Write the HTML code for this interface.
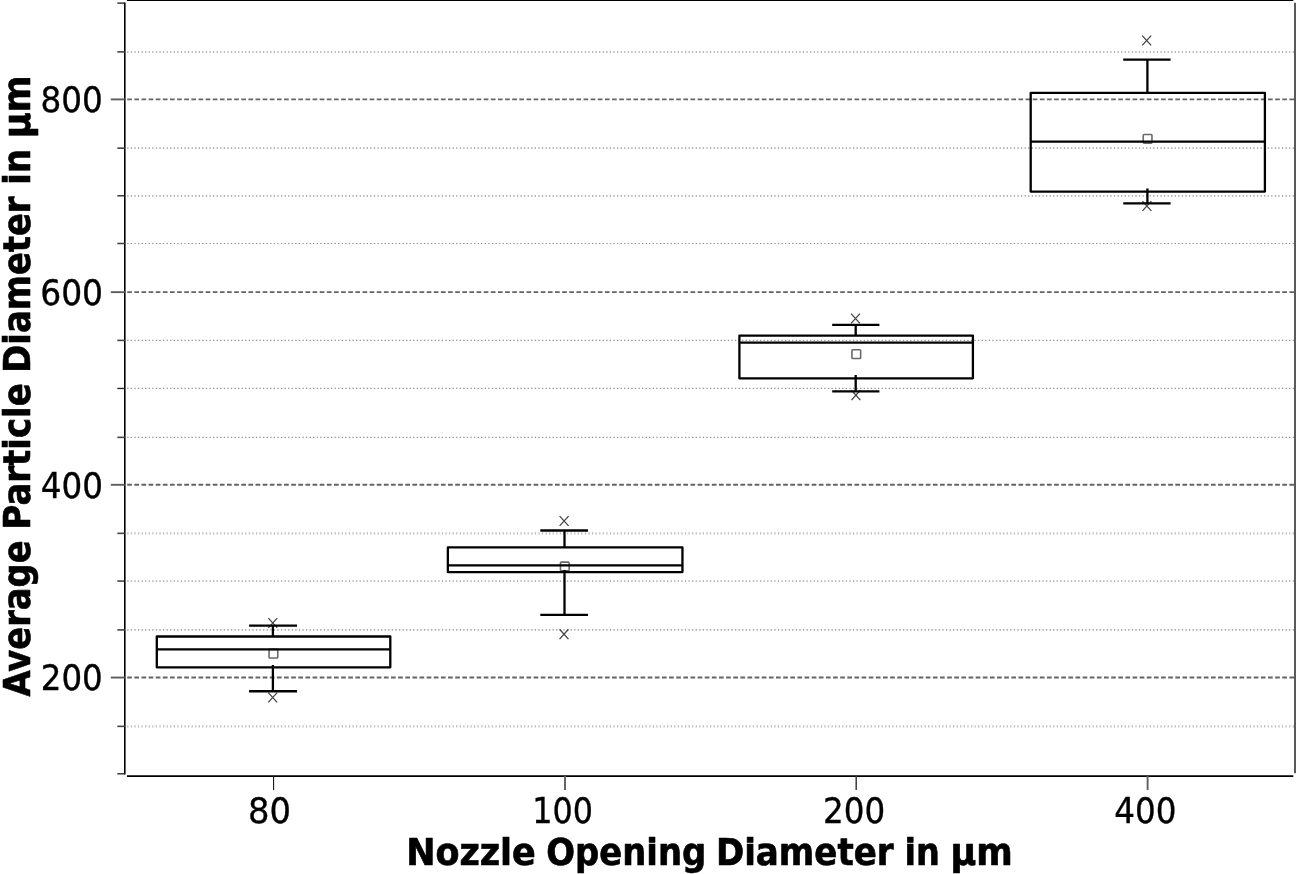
<!DOCTYPE html>
<html lang="en"><head><meta charset="utf-8">
<title>Average Particle Diameter vs Nozzle Opening Diameter</title>
<style>
html,body{margin:0;padding:0;background:#fff;}
body{width:1296px;height:874px;overflow:hidden;}
svg{display:block;}
.tk{font-family:"DejaVu Sans Condensed","DejaVu Sans","Liberation Sans",sans-serif;font-stretch:condensed;font-size:36.2px;fill:#000;stroke:#000;stroke-width:0.35px;}
.ti{font-family:"DejaVu Sans Condensed","DejaVu Sans","Liberation Sans",sans-serif;font-stretch:condensed;font-weight:bold;font-size:37.3px;fill:#000;stroke:#000;stroke-width:0.6px;stroke-linejoin:round;}
</style></head><body>
<svg width="1296" height="874" viewBox="0 0 1296 874">
<rect x="0" y="0" width="1296" height="874" fill="#ffffff"/>
<g fill="none" stroke-linecap="butt">
<line x1="127.20" y1="726.35" x2="1294.30" y2="726.35" stroke="#bebebe" stroke-width="2.2" stroke-dasharray="1.3 2.275"/>
<line x1="127.20" y1="677.55" x2="1294.30" y2="677.55" stroke="#646464" stroke-width="1.9" stroke-dasharray="4.7 2.43"/>
<line x1="127.20" y1="629.90" x2="1294.30" y2="629.90" stroke="#a6a6a6" stroke-width="1.6" stroke-dasharray="1.3 2.275"/>
<line x1="127.20" y1="581.05" x2="1294.30" y2="581.05" stroke="#b0b0b0" stroke-width="1.8" stroke-dasharray="1.3 2.275"/>
<line x1="127.20" y1="533.35" x2="1294.30" y2="533.35" stroke="#bebebe" stroke-width="2.2" stroke-dasharray="1.3 2.275"/>
<line x1="127.20" y1="484.80" x2="1294.30" y2="484.80" stroke="#646464" stroke-width="1.9" stroke-dasharray="4.7 2.43"/>
<line x1="127.20" y1="437.35" x2="1294.30" y2="437.35" stroke="#919191" stroke-width="1.3" stroke-dasharray="1.3 2.275"/>
<line x1="127.20" y1="388.45" x2="1294.30" y2="388.45" stroke="#919191" stroke-width="1.3" stroke-dasharray="1.3 2.275"/>
<line x1="127.20" y1="340.40" x2="1294.30" y2="340.40" stroke="#919191" stroke-width="1.3" stroke-dasharray="1.3 2.275"/>
<line x1="127.20" y1="292.15" x2="1294.30" y2="292.15" stroke="#646464" stroke-width="1.9" stroke-dasharray="4.7 2.43"/>
<line x1="127.20" y1="243.50" x2="1294.30" y2="243.50" stroke="#888888" stroke-width="1.2" stroke-dasharray="1.3 2.275"/>
<line x1="127.20" y1="195.80" x2="1294.30" y2="195.80" stroke="#ababab" stroke-width="1.7" stroke-dasharray="1.3 2.275"/>
<line x1="127.20" y1="148.15" x2="1294.30" y2="148.15" stroke="#ababab" stroke-width="1.7" stroke-dasharray="1.3 2.275"/>
<line x1="127.20" y1="99.40" x2="1294.30" y2="99.40" stroke="#646464" stroke-width="1.9" stroke-dasharray="4.7 2.43"/>
<line x1="127.20" y1="51.90" x2="1294.30" y2="51.90" stroke="#b8b8b8" stroke-width="2.0" stroke-dasharray="1.3 2.275"/>
</g>
<g stroke="#000" fill="none" stroke-linecap="butt">
<line x1="124.80" y1="2.40" x2="124.80" y2="774.60" stroke-width="1.6"/>
<line x1="126.90" y1="776.05" x2="1293.30" y2="776.05" stroke-width="1.7"/>
<line x1="126.90" y1="0.35" x2="1293.30" y2="0.35" stroke-width="1.3"/>
<line x1="1295.00" y1="2.80" x2="1295.00" y2="773.30" stroke-width="1.8" stroke="#484848"/>
</g>
<g stroke="#5e5e5e" stroke-width="1.9" fill="none">
<line x1="117.30" y1="773.80" x2="124.80" y2="773.80" stroke-width="1.35" stroke="#242424"/>
<line x1="117.30" y1="726.35" x2="124.80" y2="726.35" stroke-width="1.6" stroke="#444444"/>
<line x1="110.80" y1="677.55" x2="124.80" y2="677.55" stroke-width="1.9" stroke="#5e5e5e"/>
<line x1="117.30" y1="629.90" x2="124.80" y2="629.90" stroke-width="1.6" stroke="#444444"/>
<line x1="117.30" y1="581.05" x2="124.80" y2="581.05" stroke-width="1.35" stroke="#242424"/>
<line x1="117.30" y1="533.35" x2="124.80" y2="533.35" stroke-width="1.6" stroke="#444444"/>
<line x1="110.80" y1="484.80" x2="124.80" y2="484.80" stroke-width="1.9" stroke="#5e5e5e"/>
<line x1="117.30" y1="437.35" x2="124.80" y2="437.35" stroke-width="1.6" stroke="#444444"/>
<line x1="117.30" y1="388.45" x2="124.80" y2="388.45" stroke-width="1.35" stroke="#242424"/>
<line x1="117.30" y1="340.40" x2="124.80" y2="340.40" stroke-width="1.6" stroke="#444444"/>
<line x1="110.80" y1="292.15" x2="124.80" y2="292.15" stroke-width="1.9" stroke="#5e5e5e"/>
<line x1="117.30" y1="243.50" x2="124.80" y2="243.50" stroke-width="1.6" stroke="#444444"/>
<line x1="117.30" y1="195.80" x2="124.80" y2="195.80" stroke-width="1.35" stroke="#242424"/>
<line x1="117.30" y1="148.15" x2="124.80" y2="148.15" stroke-width="1.6" stroke="#444444"/>
<line x1="110.80" y1="99.40" x2="124.80" y2="99.40" stroke-width="1.9" stroke="#5e5e5e"/>
<line x1="117.30" y1="51.90" x2="124.80" y2="51.90" stroke-width="1.6" stroke="#444444"/>
<line x1="117.30" y1="3.10" x2="124.80" y2="3.10" stroke-width="1.35" stroke="#242424"/>
<line x1="273.56" y1="776.05" x2="273.56" y2="790.10" stroke-width="1.15" stroke="#1c1c1c"/>
<line x1="565.00" y1="776.05" x2="565.00" y2="790.10" stroke-width="1.9" stroke="#5e5e5e"/>
<line x1="856.20" y1="776.05" x2="856.20" y2="790.10" stroke-width="1.5" stroke="#3c3c3c"/>
<line x1="1147.60" y1="776.05" x2="1147.60" y2="790.10" stroke-width="1.9" stroke="#5e5e5e"/>
</g>
<g stroke="#444" stroke-width="1.3" fill="none" stroke-linejoin="round">
<rect x="269.05" y="649.35" width="8.70" height="8.70" rx="0.8" stroke="#6a6a6a" stroke-width="1.6"/>
<path d="M268.35 618.10L277.25 627.90M268.35 627.90L277.25 618.10"/>
<path d="M268.25 692.60L277.15 702.40M268.25 702.40L277.15 692.60"/>
<rect x="560.45" y="562.15" width="8.70" height="8.70" rx="0.8" stroke="#6a6a6a" stroke-width="1.6"/>
<path d="M559.65 516.10L568.55 525.90M559.65 525.90L568.55 516.10"/>
<path d="M559.55 629.30L568.45 639.10M559.55 639.10L568.45 629.30"/>
<rect x="851.95" y="349.75" width="8.70" height="8.70" rx="0.8" stroke="#6a6a6a" stroke-width="1.6"/>
<path d="M851.05 313.60L859.95 323.40M851.05 323.40L859.95 313.60"/>
<path d="M851.45 390.30L860.35 400.10M851.45 400.10L860.35 390.30"/>
<rect x="1143.25" y="134.45" width="8.70" height="8.70" rx="0.8" stroke="#6a6a6a" stroke-width="1.6"/>
<path d="M1142.25 35.60L1151.15 45.40M1142.25 45.40L1151.15 35.60"/>
<path d="M1142.45 201.10L1151.35 210.90M1142.45 210.90L1151.35 201.10"/>
</g>
<g stroke="#000" fill="none" stroke-linejoin="round" stroke-linecap="butt">
<rect x="156.80" y="636.50" width="233.50" height="30.80" stroke-width="2.3"/>
<line x1="156.80" y1="649.30" x2="390.30" y2="649.30" stroke-width="2.2"/>
<path d="M249.10 625.70H297.00M272.90 625.70V636.50M272.90 665.00V691.25M249.10 691.25H297.00" stroke-width="2.3"/>
<rect x="447.85" y="547.40" width="234.60" height="24.70" stroke-width="2.3"/>
<line x1="447.85" y1="565.30" x2="682.45" y2="565.30" stroke-width="2.2"/>
<path d="M540.30 530.50H588.00M564.50 530.50V547.40M564.50 570.00V614.90M540.30 614.90H588.00" stroke-width="2.3"/>
<rect x="739.40" y="335.70" width="233.50" height="42.60" stroke-width="2.3"/>
<line x1="739.40" y1="342.65" x2="972.90" y2="342.65" stroke-width="2.2"/>
<path d="M832.20 324.85H879.40M855.70 324.85V335.70M855.70 375.10V391.40M832.20 391.40H879.40" stroke-width="2.3"/>
<rect x="1030.70" y="92.90" width="234.20" height="98.65" stroke-width="2.3"/>
<line x1="1030.70" y1="141.60" x2="1264.90" y2="141.60" stroke-width="2.2"/>
<path d="M1123.20 59.70H1170.60M1147.40 59.70V92.90M1147.40 188.40V203.30M1123.20 203.30H1170.60" stroke-width="2.3"/>
</g>
<text class="tk" x="40.42" y="112.25" textLength="62.24" lengthAdjust="spacingAndGlyphs">800</text>
<text class="tk" x="40.18" y="304.85" textLength="62.94" lengthAdjust="spacingAndGlyphs">600</text>
<text class="tk" x="40.74" y="497.50" textLength="62.23" lengthAdjust="spacingAndGlyphs">400</text>
<text class="tk" x="40.78" y="690.10" textLength="61.96" lengthAdjust="spacingAndGlyphs">200</text>
<text class="tk" x="247.97" y="822.75" textLength="42.90" lengthAdjust="spacingAndGlyphs">80</text>
<text class="tk" x="532.20" y="822.75" textLength="60.69" lengthAdjust="spacingAndGlyphs">100</text>
<text class="tk" x="822.98" y="822.75" textLength="62.17" lengthAdjust="spacingAndGlyphs">200</text>
<text class="tk" x="1114.24" y="822.75" textLength="62.23" lengthAdjust="spacingAndGlyphs">400</text>
<g aria-label="Nozzle Opening Diameter in µm">
<text class="ti" x="406.16" y="865.40" textLength="129.63" lengthAdjust="spacingAndGlyphs">Nozzle</text>
<text class="ti" x="546.21" y="865.40" textLength="160.04" lengthAdjust="spacingAndGlyphs">Opening</text>
<text class="ti" x="715.93" y="865.40" textLength="177.65" lengthAdjust="spacingAndGlyphs">Diameter</text>
<text class="ti" x="904.57" y="865.40" textLength="35.30" lengthAdjust="spacingAndGlyphs">in</text>
<text class="ti" x="950.55" y="865.40" textLength="62.26" lengthAdjust="spacingAndGlyphs">µm</text>
</g>
<g aria-label="Average Particle Diameter in µm">
<text class="ti" x="0.00" y="0.00" textLength="156.04" lengthAdjust="spacingAndGlyphs" transform="translate(29.80 696.46) rotate(-90)">Average</text>
<text class="ti" x="0.00" y="0.00" textLength="146.18" lengthAdjust="spacingAndGlyphs" transform="translate(29.80 529.41) rotate(-90)">Particle</text>
<text class="ti" x="0.00" y="0.00" textLength="176.22" lengthAdjust="spacingAndGlyphs" transform="translate(29.80 372.70) rotate(-90)">Diameter</text>
<text class="ti" x="0.00" y="0.00" textLength="35.74" lengthAdjust="spacingAndGlyphs" transform="translate(29.80 184.67) rotate(-90)">in</text>
<text class="ti" x="0.00" y="0.00" textLength="62.67" lengthAdjust="spacingAndGlyphs" transform="translate(29.80 138.19) rotate(-90)">µm</text>
</g>
</svg>
</body></html>
